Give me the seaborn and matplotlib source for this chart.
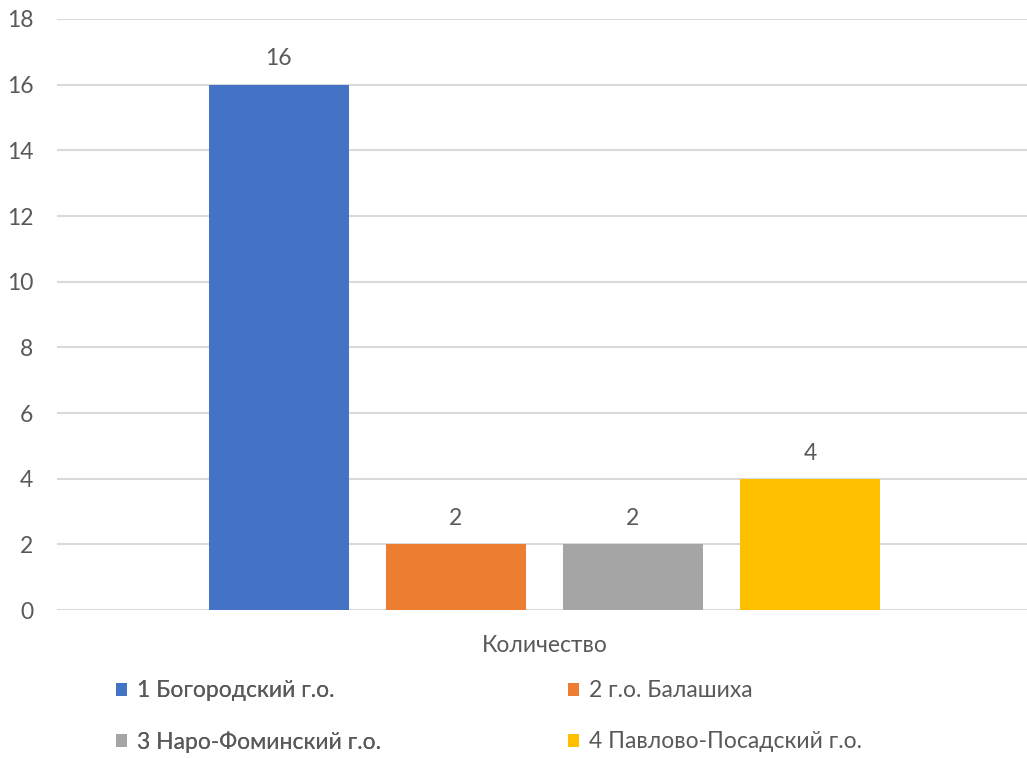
import matplotlib
matplotlib.use("Agg")
import matplotlib.pyplot as plt
import seaborn as sns
import pandas as pd
from matplotlib.patches import Patch

categories = ["1 Богородский г.о.", "2 г.о. Балашиха", "3 Наро-Фоминский г.о.", "4 Павлово-Посадский г.о."]
values = [16, 2, 2, 4]
group_label = "Количество"
colors = ["#4472C4", "#ED7D31", "#A5A5A5", "#FFC000"]
yticks = [0, 2, 4, 6, 8, 10, 12, 14, 16, 18]

sns.set_theme(style="white")
plt.rcParams["font.family"] = ["Lato", "DejaVu Sans"]
txt = "#595959"
fs = 16.5

df = pd.DataFrame({"group": [group_label] * len(categories), "cat": categories, "val": values})

fig = plt.figure(figsize=(10.27, 7.58), dpi=100)
ax = fig.add_axes([0.0555, 0.195, 0.9445, 0.78])

sns.barplot(data=df, x="group", y="val", hue="cat", hue_order=categories,
            palette=colors, width=0.73, gap=0.21, ax=ax, legend=False,
            saturation=1, edgecolor="none")

ax.set_ylim(0, 18)
ax.set_xlim(-0.5025, 0.4975)
ax.set_yticks(yticks)
ax.yaxis.grid(True, color="#D9D9D9", linewidth=1.5)
ax.set_axisbelow(True)
for s in ax.spines.values():
    s.set_visible(False)
ax.tick_params(axis="both", length=0, labelsize=fs, colors=txt)
ax.tick_params(axis="x", pad=18)
ax.tick_params(axis="y", pad=17)
ax.set_xlabel("")
ax.set_ylabel("")

for c in ax.containers:
    ax.bar_label(c, padding=11, fontsize=fs, color=txt)

handles = [Patch(facecolor=col, edgecolor="none") for col in colors]
leg_kw = dict(loc="upper left", frameon=False, fontsize=fs, labelcolor=txt,
              handlelength=0.48, handleheight=0.48, handletextpad=0.45,
              labelspacing=1.31, borderaxespad=0, borderpad=0)
leg1 = fig.legend([handles[0], handles[2]], [categories[0], categories[2]],
                  bbox_to_anchor=(0.113, 0.1025), **leg_kw)
fig.add_artist(leg1)
leg2 = fig.legend([handles[1], handles[3]], [categories[1], categories[3]],
                  bbox_to_anchor=(0.553, 0.1025), **leg_kw)

fig.savefig("out.png", dpi=100)
